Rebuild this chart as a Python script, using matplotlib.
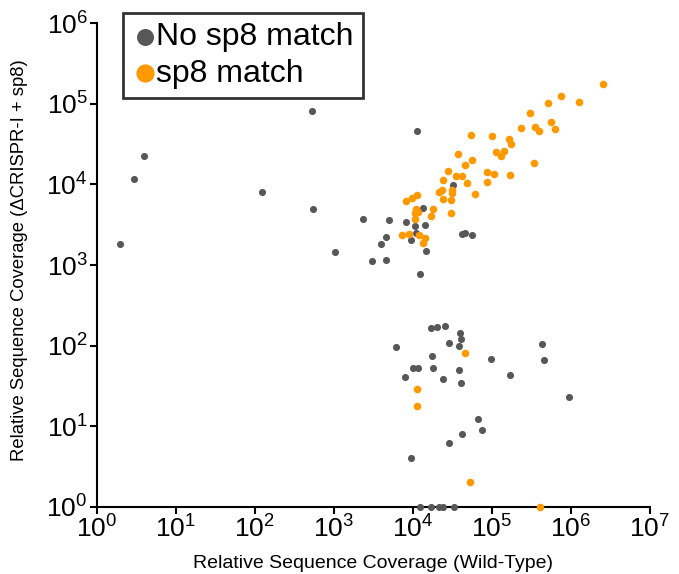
import matplotlib
matplotlib.use("Agg")
import matplotlib.pyplot as plt
from matplotlib.ticker import LogLocator

plt.rcParams["font.family"] = ["Liberation Sans", "DejaVu Sans"]

# No sp8 match (grey)
no_x = [2.0, 3.0, 4.0, 123, 530, 550, 1050, 11200, 2330, 5000, 8300, 13600,
        10700, 14400, 11000, 4600, 4000, 9500, 14700, 3030, 4550, 12300,
        42000, 45500, 56000, 32700,
        6150, 16900, 20100, 25600, 40000, 40500, 28500, 38200, 97000, 17700,
        10000, 11600, 18100, 7900, 24200, 38200, 40500, 437000, 455000,
        172000, 950000, 68000, 76000, 42000, 29000, 9400,
        12300, 17000, 21800, 24500, 33000]
no_y = [1800, 11800, 22600, 8100, 81000, 5000, 1440, 46600, 3730, 3600, 3400,
        5070, 3050, 3170, 2480, 2250, 1840, 2050, 1490, 1110, 1150, 780,
        2430, 2520, 2340, 9900,
        97, 164, 172, 177, 142, 122, 109, 99, 68, 75,
        52, 52, 52, 41, 38, 50, 34, 105, 67,
        43, 23, 12.2, 9.0, 8.0, 6.1, 4.0,
        1, 1, 1, 1, 1]

# sp8 match (orange)
sp_x = [2.59e6, 747000, 511000, 1.28e6, 305000, 233000, 353000, 393000,
        568000, 632000, 54700, 101000, 164000, 175000, 37200, 114000, 145000,
        132000, 56800, 45300, 340000, 28000, 35200, 42500, 86400, 107000,
        172000, 24500, 88000, 48700, 31400, 21800, 23800, 31200, 61500,
        24500, 30400, 11200, 9750, 8300, 18100, 10900, 11600, 10800, 30400,
        17000, 10800, 7330, 9060, 12100, 14400, 13500,
        46400, 11200, 11400, 53600, 406000]
sp_y = [175000, 126000, 102000, 106000, 76500, 50000, 52200, 46600,
        59200, 48400, 40800, 40000, 36400, 31800, 23800, 25100, 26200,
        22600, 20000, 17300, 18300, 14800, 12800, 12700, 14200, 13300,
        13100, 11200, 10800, 10400, 8550, 8070, 8550, 7780, 7620,
        6610, 6420, 7410, 6740, 6300, 4990, 4920, 4600, 4360, 4430,
        4030, 3700, 2350, 2400, 2350, 2150, 1900,
        80, 29, 18, 2.0, 1]

GREY = "#575757"
ORANGE = "#FF9900"

fig = plt.figure(figsize=(6.79, 5.74), dpi=100)
ax = fig.add_axes([0.1424, 0.1172, 0.8144, 0.8422])

ax.scatter(no_x, no_y, s=26, color=GREY, linewidths=0, label="No sp8 match",
           clip_on=False, zorder=3)
ax.scatter(sp_x, sp_y, s=30, color=ORANGE, linewidths=0, label="sp8 match",
           clip_on=False, zorder=4)

ax.set_xscale("log")
ax.set_yscale("log")
ax.set_xlim(1, 1e7)
ax.set_ylim(1, 1e6)
ax.xaxis.set_major_locator(LogLocator(base=10, numticks=20))
ax.yaxis.set_major_locator(LogLocator(base=10, numticks=20))
ax.minorticks_off()

for side in ("top", "right"):
    ax.spines[side].set_visible(False)
for side in ("left", "bottom"):
    ax.spines[side].set_linewidth(1.5)

ax.tick_params(axis="both", which="major", direction="out", length=5,
               width=1.5, labelsize=19, pad=1.5)

ax.set_xlabel("Relative Sequence Coverage (Wild-Type)", fontsize=14,
              va="center")
ax.set_ylabel("Relative Sequence Coverage (\u0394CRISPR-I + sp8)", fontsize=13.3,
              va="center")
ax.xaxis.set_label_coords(0.5, -0.118)
ax.yaxis.set_label_coords(-0.139, 0.51)

leg = ax.legend(loc="upper left", bbox_to_anchor=(0.047, 1.022),
                borderaxespad=0, fontsize=23, markerscale=2.4,
                handletextpad=-0.05, handlelength=0.8, borderpad=0.3,
                labelspacing=0.2, frameon=True, fancybox=False)
leg.get_frame().set_edgecolor("black")
leg.get_frame().set_linewidth(2)

fig.savefig("out.png", dpi=100)
